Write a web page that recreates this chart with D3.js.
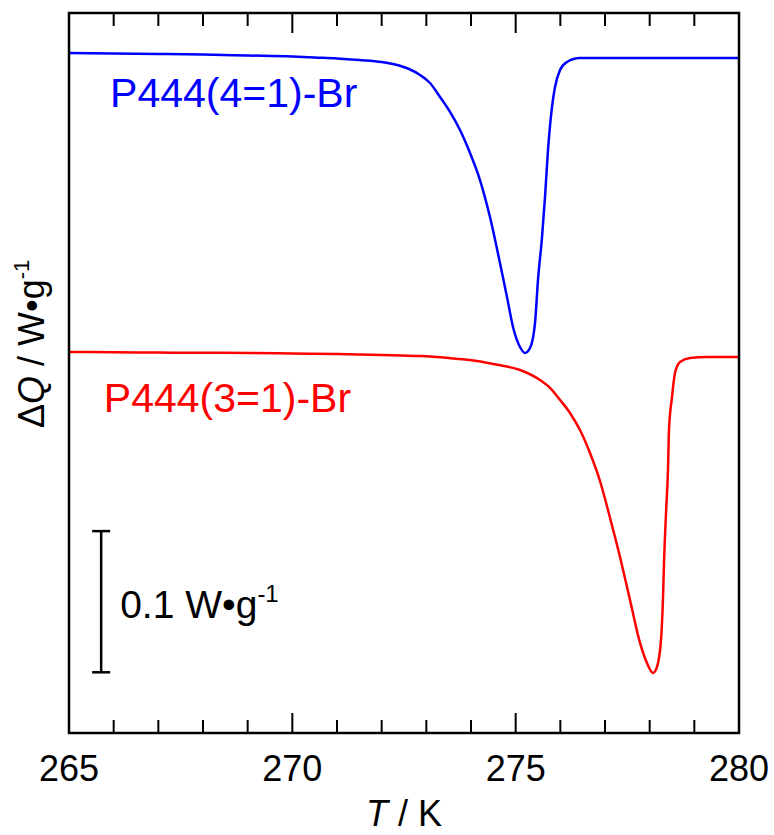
<!DOCTYPE html>
<html>
<head>
<meta charset="utf-8">
<script src="https://cdn.jsdelivr.net/npm/d3@7"></script>
<style>
  body { margin: 0; background: #fff; }
  svg text { font-family: "Liberation Sans", Arial, Helvetica, sans-serif; }
</style>
</head>
<body>
<svg id="chart"></svg>
<script>
// temperatures (K) and heat flow (W/g, curves offset as drawn)
const blueT = [265.0, 266.0, 267.0, 268.0, 269.0, 270.0, 270.5, 271.0, 271.5, 272.0, 272.3, 272.6,
  272.858, 273.082, 273.306, 273.53, 273.754, 273.978, 274.201, 274.425, 274.649, 274.806, 274.94,
  275.097, 275.209, 275.321, 275.433, 275.5, 275.59, 275.657, 275.724, 275.813, 275.881, 275.993,
  276.149, 276.44, 277.33, 280.0];
const blueQ = [0.0017, 0.0013, 0.0010, 0.0006, -0.0001, -0.0008, -0.0015, -0.0022, -0.0033, -0.0047,
  -0.0065, -0.0095, -0.0139, -0.0196, -0.0295, -0.0401, -0.0529, -0.0692, -0.0883, -0.1145, -0.1471,
  -0.1712, -0.1924, -0.2066, -0.2108, -0.2073, -0.1896, -0.1591, -0.1287, -0.1003, -0.0670, -0.0366,
  -0.0224, -0.0104, -0.0047, -0.0019, -0.0019, -0.0019];

const redT = [265, 266, 267, 268, 269, 270, 271, 272, 272.86, 273.5, 273.98, 274.5, 275.1, 275.545,
  275.769, 275.993, 276.216, 276.44, 276.664, 276.888, 277.112, 277.336, 277.56, 277.784, 277.94,
  278.075, 278.164, 278.254, 278.299, 278.321, 278.366, 278.41, 278.433, 278.5, 278.567, 278.679,
  278.903, 279.284, 280];
const redQ = [-0.2101, -0.2103, -0.2105, -0.2107, -0.2108, -0.2112, -0.2115, -0.2122, -0.2130, -0.2144,
  -0.2158, -0.2186, -0.2229, -0.2300, -0.2356, -0.2441, -0.2533, -0.2654, -0.2817, -0.3015, -0.3275,
  -0.3553, -0.3858, -0.4162, -0.4304, -0.4375, -0.4332, -0.4141, -0.3837, -0.3596, -0.3242, -0.2937,
  -0.2654, -0.2420, -0.2250, -0.2172, -0.2144, -0.2137, -0.2137];

const seriesNames = ["P444(4=1)-Br", "P444(3=1)-Br"];
const seriesColors = ["#0000ff", "#ff0000"];
const xTicks = [265, 270, 275, 280];

// scale bar: 0.1 W/g
const barT = 265.72, barTop = -0.337, barLen = 0.1;

const width = 774, height = 835;
const margin = { top: 13, right: 35, bottom: 102, left: 69 };
const w = width - margin.left - margin.right;
const h = height - margin.top - margin.bottom;

const svg = d3.select("#chart").attr("width", width).attr("height", height);
const g = svg.append("g").attr("transform", `translate(${margin.left},${margin.top})`);

const x = d3.scaleLinear().domain([265, 280]).range([0, w]);
const y = d3.scaleLinear().domain([-0.48, 0.03]).range([h, 0]);

const series = [
  { name: seriesNames[0], color: seriesColors[0], pts: blueT.map((t, i) => [t, blueQ[i]]) },
  { name: seriesNames[1], color: seriesColors[1], pts: redT.map((t, i) => [t, redQ[i]]) }
];

const line = d3.line().x(d => x(d[0])).y(d => y(d[1])).curve(d3.curveMonotoneX);

g.selectAll(".curve")
  .data(series)
  .enter()
  .append("path")
  .attr("class", "curve")
  .attr("d", d => line(d.pts))
  .attr("fill", "none")
  .attr("stroke", d => d.color)
  .attr("stroke-width", 2.5);

// ticks, inward on bottom and top
const minor = d3.range(265, 281, 1);
function ticks(sel, dir) {
  sel.selectAll("line")
    .data(minor)
    .enter()
    .append("line")
    .attr("x1", d => x(d)).attr("x2", d => x(d))
    .attr("y1", 0)
    .attr("y2", d => dir * (d % 5 === 0 ? 20 : 13))
    .attr("stroke", "#000")
    .attr("stroke-width", 2);
}
g.append("g").attr("transform", `translate(0,${h})`).call(ticks, -1);
g.append("g").call(ticks, 1);

g.selectAll(".xlab")
  .data(xTicks)
  .enter()
  .append("text")
  .attr("x", d => x(d))
  .attr("y", h + 48)
  .attr("text-anchor", "middle")
  .attr("font-size", 36)
  .text(d => d);

// frame
g.append("rect")
  .attr("width", w).attr("height", h)
  .attr("fill", "none")
  .attr("stroke", "#000")
  .attr("stroke-width", 2.5);

// series labels
g.append("text")
  .attr("x", x(265.92)).attr("y", 94)
  .attr("font-size", 41)
  .attr("fill", seriesColors[0])
  .text(seriesNames[0]);
g.append("text")
  .attr("x", x(265.78)).attr("y", 399)
  .attr("font-size", 41)
  .attr("fill", seriesColors[1])
  .text(seriesNames[1]);

// scale bar
const bx = x(barT), by1 = y(barTop), by2 = y(barTop - barLen);
const bar = g.append("g").attr("stroke", "#000").attr("stroke-width", 2.5);
bar.append("line").attr("x1", bx).attr("x2", bx).attr("y1", by1).attr("y2", by2);
bar.append("line").attr("x1", bx - 9).attr("x2", bx + 9).attr("y1", by1).attr("y2", by1);
bar.append("line").attr("x1", bx - 9).attr("x2", bx + 9).attr("y1", by2).attr("y2", by2);

const sb = g.append("text")
  .attr("x", bx + 19).attr("y", (by1 + by2) / 2 + 16)
  .attr("font-size", 39);
sb.append("tspan").text("0.1 W\u2022g");
sb.append("tspan").attr("font-size", 24).attr("dy", -16).text("-1");

// axis titles
const xt = svg.append("text")
  .attr("x", margin.left + w / 2).attr("y", 826)
  .attr("text-anchor", "middle")
  .attr("font-size", 36);
xt.append("tspan").attr("font-style", "italic").text("T");
xt.append("tspan").text(" / K");

const yt = svg.append("text")
  .attr("transform", "translate(44,428) rotate(-90)")
  .attr("font-size", 36);
yt.append("tspan").text("\u0394");
yt.append("tspan").attr("font-style", "italic").text("Q");
yt.append("tspan").text("  / W\u2022g");
yt.append("tspan").attr("font-size", 22).attr("dy", -15).text("-1");
</script>
</body>
</html>
